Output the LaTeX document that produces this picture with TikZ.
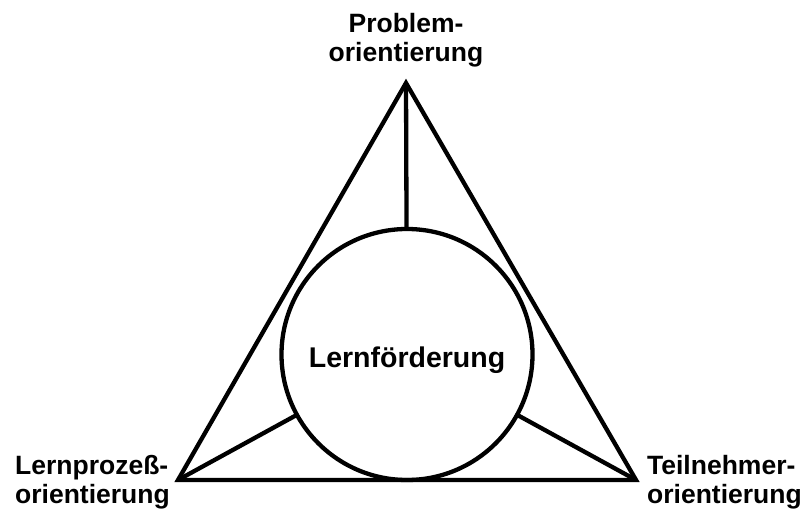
\documentclass[tikz,border=0pt]{standalone}
\usepackage{fontspec}
\setmainfont{Liberation Sans}
\usepackage{tikz}
\usetikzlibrary{calc}

\begin{document}
\begin{tikzpicture}[x=1pt,y=-1pt,line width=4.3pt,
    lbl/.style={font=\fontsize{26.5}{29}\selectfont\bfseries, inner sep=0pt}]
    \useasboundingbox (0,0) rectangle (801,513);
    % Corners
    \coordinate (prob) at (406,83);
    \coordinate (proz) at (178,480);
    \coordinate (teil) at (636,480);
    % Triangle
    \draw[line join=miter] (prob) -- (proz) -- (teil) -- cycle;
    % Circle
    \node[circle, draw, minimum size=251pt, inner sep=0pt, outer sep=0pt,
          text height=25pt, text depth=0pt,
          font=\fontsize{28.5}{32}\selectfont\bfseries] (lern) at (407,354.5) {Lernförderung};
    % Spokes
    \draw (prob) -- (lern);
    \draw (proz) -- (lern);
    \draw (teil) -- (lern);
    % Labels
    \node[lbl, align=center, anchor=base] (probtxt) at (406,62) {Problem-\\orientierung};
    \node[lbl, align=left, anchor=base west] (proztxt) at (13,503) {Lernprozeß-\\orientierung};
    \node[lbl, align=left, anchor=base west] (teiltxt) at (645,503) {Teilnehmer-\\orientierung};
\end{tikzpicture}
\end{document}
